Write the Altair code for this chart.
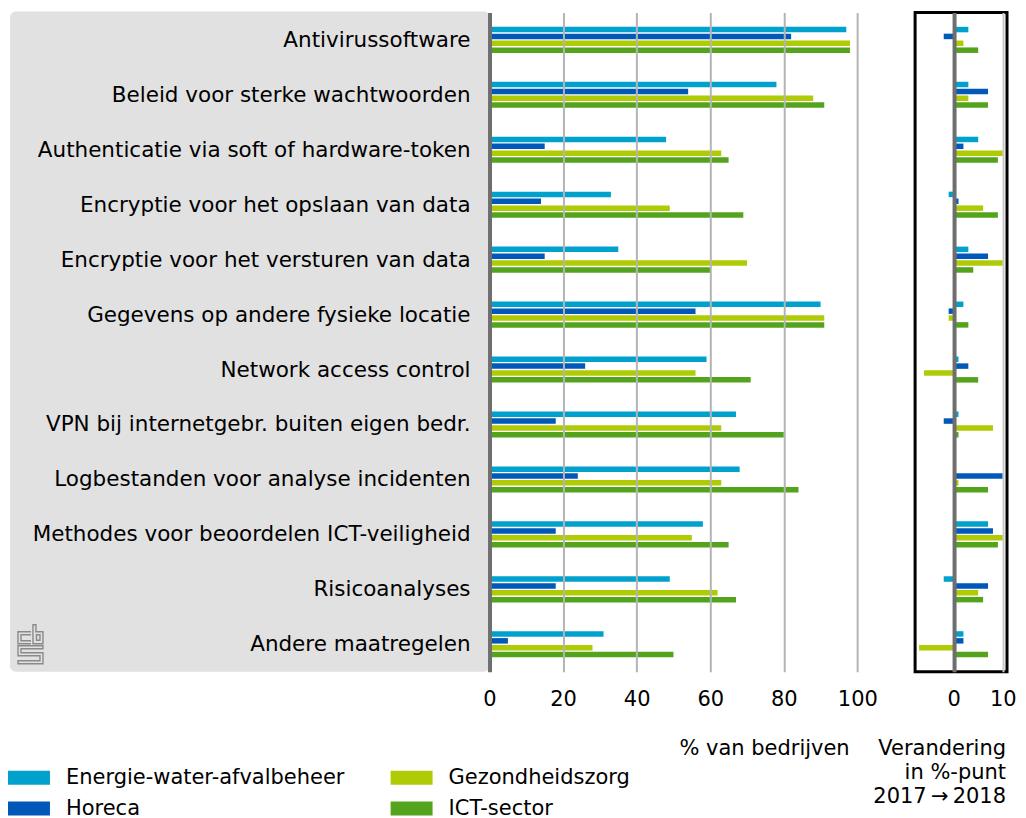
import altair as alt
import pandas as pd

FONT = "DejaVu Sans"

categories = [
    "Antivirussoftware",
    "Beleid voor sterke wachtwoorden",
    "Authenticatie via soft of hardware-token",
    "Encryptie voor het opslaan van data",
    "Encryptie voor het versturen van data",
    "Gegevens op andere fysieke locatie",
    "Network access control",
    "VPN bij internetgebr. buiten eigen bedr.",
    "Logbestanden voor analyse incidenten",
    "Methodes voor beoordelen ICT-veiligheid",
    "Risicoanalyses",
    "Andere maatregelen",
]
series = ["Energie-water-afvalbeheer", "Horeca", "Gezondheidszorg", "ICT-sector"]
colors = ["#00a1cd", "#0058b8", "#afcb05", "#53a31d"]

# % van bedrijven (2018)
pct_energie = [97, 78, 48, 33, 35, 90, 59, 67, 68, 58, 49, 31]
pct_horeca = [82, 54, 15, 14, 15, 56, 26, 18, 24, 18, 18, 5]
pct_gezond = [98, 88, 63, 49, 70, 91, 56, 63, 63, 55, 62, 28]
pct_ict = [98, 91, 65, 69, 60, 91, 71, 80, 84, 65, 67, 50]

# Verandering in %-punt 2017 -> 2018
d_energie = [3, 3, 5, -1, 3, 2, 1, 1, 0, 7, -2, 2]
d_horeca = [-2, 7, 2, 1, 7, -1, 3, -2, 10, 8, 7, 2]
d_gezond = [2, 3, 10, 6, 10, -1, -6, 8, 1, 10, 5, -7]
d_ict = [5, 7, 9, 9, 4, 3, 5, 1, 7, 9, 6, 7]

pct = [pct_energie, pct_horeca, pct_gezond, pct_ict]
dif = [d_energie, d_horeca, d_gezond, d_ict]
rows = []
for i, c in enumerate(categories):
    for s, pv, dv in zip(series, pct, dif):
        rows.append({"cat": c, "series": s, "pct": pv[i], "delta": dv[i]})
df = pd.DataFrame(rows)

H = 660

# small "cbs" logo outline (decoration), drawn in a 25 x 39 box
logo_parts = [
    ([(13, 7), (0, 7), (0, 19), (13, 19)], False),
    ([(13, 10), (3, 10), (3, 16), (13, 16)], False),
    ([(15, 0), (18, 0), (18, 7), (25, 7), (25, 19), (15, 19)], True),
    ([(18.5, 10), (22, 10), (22, 15.5), (18.5, 15.5)], True),
    ([(25, 21), (0, 21), (0, 31), (22, 31), (22, 36), (0, 36), (0, 39), (25, 39),
      (25, 28), (3, 28), (3, 24), (25, 24)], True),
]
def logo_path():
    out = []
    for pts, closed in logo_parts:
        seg = []
        for j, (px, py) in enumerate(pts):
            seg.append(("M" if j == 0 else "L") + f"{(px - 12.5) / 19.5:.4f},{(py - 19.5) / 19.5:.4f}")
        out.append("".join(seg) + ("Z" if closed else ""))
    return "".join(out)

yscale = alt.Scale(domain=categories, paddingInner=0.5, paddingOuter=0.25)
y_enc = alt.Y("cat:N", scale=yscale, axis=None)
yoff_enc = alt.YOffset("series:N", scale=alt.Scale(domain=series, paddingInner=0.2, paddingOuter=0.1))
color_enc = alt.Color(
    "series:N",
    scale=alt.Scale(domain=series, range=colors),
    legend=alt.Legend(
        title=None, orient="none", legendX=0, legendY=745, columns=2,
        symbolType="M-1,-0.333H1V0.333H-1Z", symbolSize=1764, symbolStrokeWidth=0,
        symbolOpacity=1, labelFont=FONT, labelFontSize=21, labelColor="black",
        labelOffset=16, columnPadding=46, rowPadding=-11.5, padding=0, labelLimit=400,
    ),
)

one = pd.DataFrame({"a": [0]})
# Left panel: gray background with category labels
bg = alt.Chart(one).mark_rect(fill="#e1e1e1", cornerRadius=6).encode(
    x=alt.value(2), x2=alt.value(482), y=alt.value(-1), y2=alt.value(H)
)
logo = alt.Chart(one).mark_point(
    shape=logo_path(), filled=False, stroke="#8a8a8a", strokeWidth=1.4, opacity=1, size=1521
).encode(x=alt.value(22.5), y=alt.value(632.5))
labels = alt.Chart(pd.DataFrame({"cat": categories})).mark_text(
    align="right", baseline="middle", font=FONT, fontSize=21.5, color="black", dy=1
).encode(y=y_enc, x=alt.value(463), text="cat:N")
left = alt.layer(bg, logo, labels).properties(width=482, height=H)

grid_color = alt.condition("datum.value === 0", alt.value("#6e6e6e"), alt.value("#b4b4b4"))
grid_width = alt.condition("datum.value === 0", alt.value(4), alt.value(2))

bars = alt.Chart(df).mark_bar().encode(
    x=alt.X(
        "pct:Q",
        scale=alt.Scale(domain=[0, 115.7], nice=False),
        axis=alt.Axis(
            values=[0, 20, 40, 60, 80, 100], grid=True, gridColor=grid_color, gridWidth=grid_width,
            domain=False, ticks=False, tickSize=0, labelPadding=17, labelFlush=False,
            title="% van bedrijven", titleX=360, titleY=83, titleAlign="right",
            titleBaseline="alphabetic", zindex=1,
        ),
    ),
    y=y_enc,
    yOffset=yoff_enc,
    color=color_enc,
).properties(width=426, height=H)

grid_color2 = alt.condition("datum.value === 0", alt.value("#6e6e6e"), alt.value("#c8c8c8"))
change = alt.Chart(df).mark_bar().encode(
    x=alt.X(
        "delta:Q",
        scale=alt.Scale(domain=[-7.81, 10.85], nice=False, zero=False),
        axis=alt.Axis(
            values=[0, 10], grid=True, gridColor=grid_color2, gridWidth=grid_width,
            domain=False, ticks=False, tickSize=0, labelPadding=17, labelFlush=False,
            title=["Verandering", "in %-punt", "2017\u2009\u2192\u20092018"],
            titleX=90.5, titleY=83, titleAlign="right", titleBaseline="alphabetic",
            titleLineHeight=24, zindex=1,
        ),
    ),
    y=y_enc,
    yOffset=yoff_enc,
    color=color_enc,
).properties(width=92, height=H, view=alt.ViewBackground(stroke="black", strokeWidth=3))

chart = alt.hconcat(left, bars, change, spacing=0, bounds="flush").properties(
    padding={"left": 0, "top": 2, "right": 0, "bottom": 0}
).configure_view(stroke=None).configure_axis(
    labelFont=FONT, labelFontSize=21, labelColor="black",
    titleFont=FONT, titleFontSize=21, titleFontWeight="normal", titleColor="black",
)

chart.save("out.html", embed_options={"renderer": "svg", "actions": False})
